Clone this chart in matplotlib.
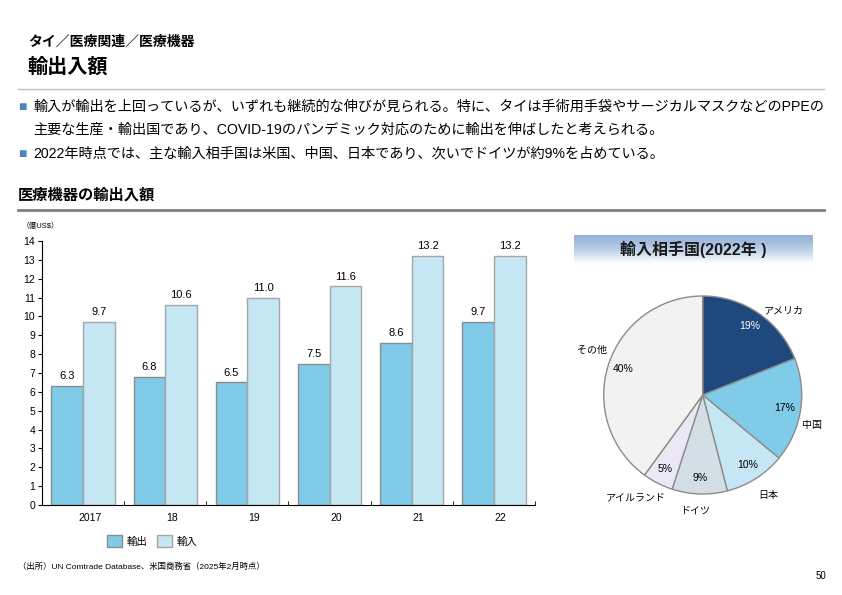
import numpy as np
import matplotlib
matplotlib.use('Agg')
from matplotlib import pyplot as plt
from matplotlib.lines import Line2D
from matplotlib.patches import Patch

plt.rcParams['font.family'] = ['Liberation Sans', 'Noto Sans CJK JP', 'DejaVu Sans']

# bar chart data
years = ['2017', '18', '19', '20', '21', '22']
exports = [6.3, 6.8, 6.5, 7.5, 8.6, 9.7]
imports = [9.7, 10.6, 11.0, 11.6, 13.2, 13.2]

# pie data (2022 import partners)
partners = ['アメリカ', '中国', '日本', 'ドイツ', 'アイルランド', 'その他']
shares = [19, 17, 10, 9, 5, 40]
pie_colors = ['#1F497D', '#7FCBE8', '#C5E6F3', '#D3DEE5', '#ECE7F4', '#F2F2F2']

# where the partner names sit around the pie (in pie radius units)
name_pos = [(0.82, 0.85), (1.10, -0.30), (0.66, -1.01), (-0.08, -1.17), (-0.68, -1.03), (-1.12, 0.46)]

W, H = 842, 595
fig = plt.figure(figsize=(W / 100, H / 100), dpi=100)

def fx(x):
    return x / W

def fy(y):
    return 1 - y / H

# header
fig.text(fx(28), fy(42), 'タイ／医療関連／医療機器', fontsize=10, fontweight='bold', va='center')
fig.text(fx(27), fy(67), '輸出入額', fontsize=14.5, fontweight='bold', va='center')
fig.add_artist(Line2D([fx(18), fx(824)], [fy(89), fy(89)], color='#BFBFBF', lw=1))

# bullets
bul = '#4F81BD'
fs = 10.2
fig.text(fx(18), fy(107), '■', color=bul, fontsize=10, va='center')
fig.text(fx(33), fy(107), '輸入が輸出を上回っているが、いずれも継続的な伸びが見られる。特に、タイは手術用手袋やサージカルマスクなどのPPEの',
         fontsize=fs, va='center')
fig.text(fx(33), fy(130), '主要な生産・輸出国であり、COVID-19のパンデミック対応のために輸出を伸ばしたと考えられる。',
         fontsize=fs, va='center')
fig.text(fx(18), fy(154), '■', color=bul, fontsize=10, va='center')
fig.text(fx(33), fy(154), '2022年時点では、主な輸入相手国は米国、中国、日本であり、次いでドイツが約9%を占めている。',
         fontsize=fs, va='center')

# section title
fig.text(fx(18), fy(195), '医療機器の輸出入額', fontsize=11, fontweight='bold', va='center')
fig.add_artist(Line2D([fx(18), fx(824)], [fy(210), fy(210)], color='#808080', lw=2))

# bar chart
ax = fig.add_axes([fx(42), fy(505), fx(535 - 42), (505 - 241) / H])
x = np.arange(len(years))
w = 0.386
b1 = ax.bar(x - w / 2, exports, w, color='#7FCBE8', edgecolor='#8C8C8C', lw=1, label='輸出')
b2 = ax.bar(x + w / 2, imports, w, color='#C5E6F3', edgecolor='#A6A6A6', lw=1, label='輸入')
for bars, vals in [(b1, exports), (b2, imports)]:
    for r, v in zip(bars, vals):
        ax.text(r.get_x() + r.get_width() / 2, v + 0.25, f'{v:.1f}', ha='center', va='bottom', fontsize=8)
ax.set_xlim(-0.5, len(years) - 0.5)
ax.set_ylim(0, 14)
ax.set_yticks(range(0, 15))
ax.tick_params(axis='y', labelsize=7.5, length=3, pad=2)
ax.set_xticks(x + 0.08)
ax.set_xticklabels(years, fontsize=7.5)
ax.set_xticks(np.arange(-0.5, len(years)), minor=True)
ax.tick_params(axis='x', which='major', length=0, pad=6)
ax.tick_params(axis='x', which='minor', length=3, direction='in')
for s in ['top', 'right']:
    ax.spines[s].set_visible(False)
ax.spines['left'].set_linewidth(0.8)
ax.spines['bottom'].set_linewidth(0.8)
fig.text(fx(22), fy(226), '（億US$）', fontsize=5.5, va='center')
ax.legend(handles=[Patch(facecolor='#7FCBE8', edgecolor='#8C8C8C', label='輸出'),
                   Patch(facecolor='#C5E6F3', edgecolor='#A6A6A6', label='輸入')],
          loc='center', bbox_to_anchor=(fx(152), fy(541)), bbox_transform=fig.transFigure,
          ncol=2, frameon=False, fontsize=7.5, handlelength=1.5, handleheight=1.3,
          handletextpad=0.4, columnspacing=0.9)

# pie title box with gradient
tax = fig.add_axes([fx(574), fy(263), fx(813 - 574), (263 - 235) / H])
grad = np.linspace(0, 1, 100).reshape(-1, 1)
top = np.array([0.58, 0.70, 0.85])
bot = np.array([1.0, 1.0, 1.0])
img = top + (bot - top) * grad[..., None] ** 1.5
tax.imshow(img.reshape(100, 1, 3), aspect='auto', extent=[0, 1, 0, 1])
tax.axis('off')
fig.text(fx(693), fy(249), '輸入相手国(2022年 )', fontsize=11.5, fontweight='bold', ha='center', va='center',
         color='#1A1A1A')

# pie
cx, cy, rad = 702.7, 395, 99
pax = fig.add_axes([fx(cx - 1.3 * rad), fy(cy + 1.3 * rad), fx(2.6 * rad), 2.6 * rad / H])
wedges, texts, autotexts = pax.pie(shares, labels=partners, colors=pie_colors, startangle=90,
                                   counterclock=False, autopct='%d%%', pctdistance=0.84,
                                   labeldistance=1.2,
                                   wedgeprops=dict(edgecolor='#8C8C8C', linewidth=1),
                                   textprops=dict(fontsize=7.5))
for t, p in zip(texts, name_pos):
    t.set_position(p)
    t.set_ha('center')
    t.set_va('center')
    t.set_fontsize(7.2)
for i, t in enumerate(autotexts):
    t.set_color('white' if i == 0 else 'black')
pax.set_xlim(-1.3, 1.3)
pax.set_ylim(-1.3, 1.3)
pax.set_aspect('equal')

# footer
fig.text(fx(18), fy(567), '（出所）UN Comtrade Database、米国商務省（2025年2月時点）', fontsize=6, va='center')
fig.text(fx(826), fy(576), '50', fontsize=7, ha='right', va='center')

fig.savefig('out.png', dpi=100)
